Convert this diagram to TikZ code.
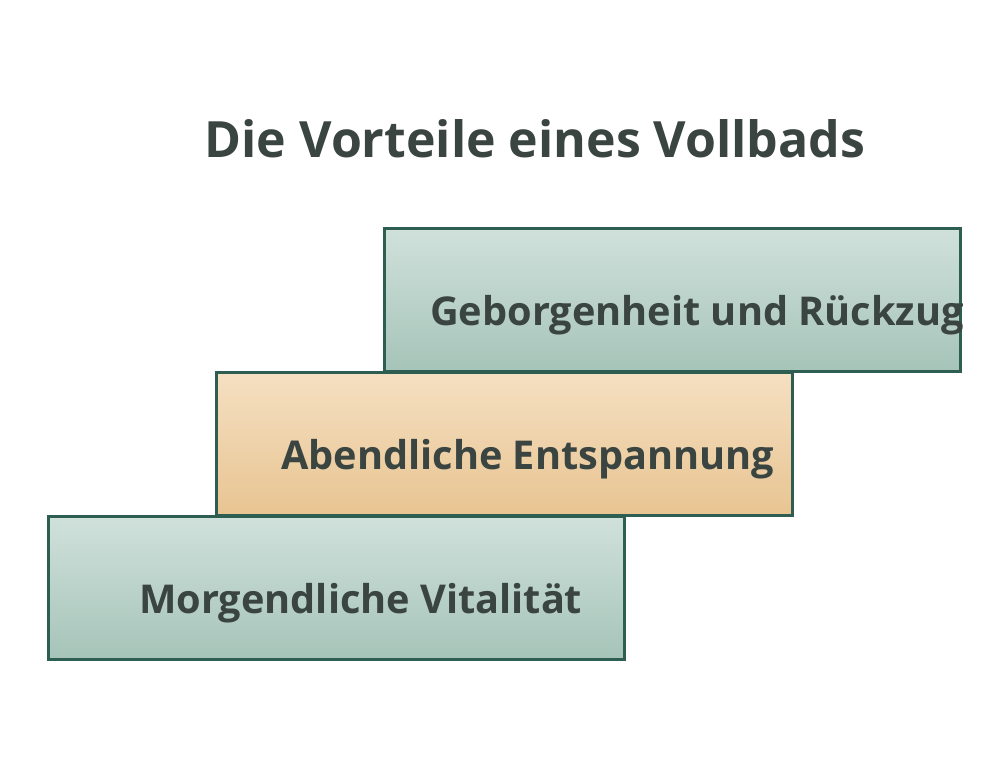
\documentclass[tikz,border=0pt]{standalone}
\usepackage{fontspec}
\setmainfont{Open Sans}
\definecolor{txt}{HTML}{3A4441}
\definecolor{edge}{HTML}{2E5E52}
\definecolor{gtop}{HTML}{D0E1DB}
\definecolor{gbot}{HTML}{A6C4B9}
\definecolor{otop}{HTML}{F5E0C2}
\definecolor{obot}{HTML}{E8C492}
\begin{document}
\begin{tikzpicture}[x=1pt,y=-1pt,
  stepbox/.style={draw=edge,line width=3pt},
  greenbox/.style={stepbox,top color=gtop,bottom color=gbot},
  orangebox/.style={stepbox,top color=otop,bottom color=obot},
  lbl/.style={anchor=base west,inner sep=0pt,text=txt,font=\bfseries\fontsize{39.7}{44}\selectfont},
  ttl/.style={anchor=base,inner sep=0pt,text=txt,font=\bfseries\fontsize{50}{56}\selectfont}]
\useasboundingbox[fill=white] (0,0) rectangle (1008,756);
\node[ttl] (title) at (535,157) {Die Vorteile eines Vollbads};
\path[greenbox] (384,228) rectangle (960,371);
\path[orangebox] (216,372) rectangle (792,515);
\path[greenbox] (48,516) rectangle (624,659);
\node[lbl] (t1) at (430,325) {Geborgenheit und Rückzug};
\node[lbl] (t2) at (281,469) {Abendliche Entspannung};
\node[lbl] (t3) at (139,613) {Morgendliche Vitalität};
\end{tikzpicture}
\end{document}
